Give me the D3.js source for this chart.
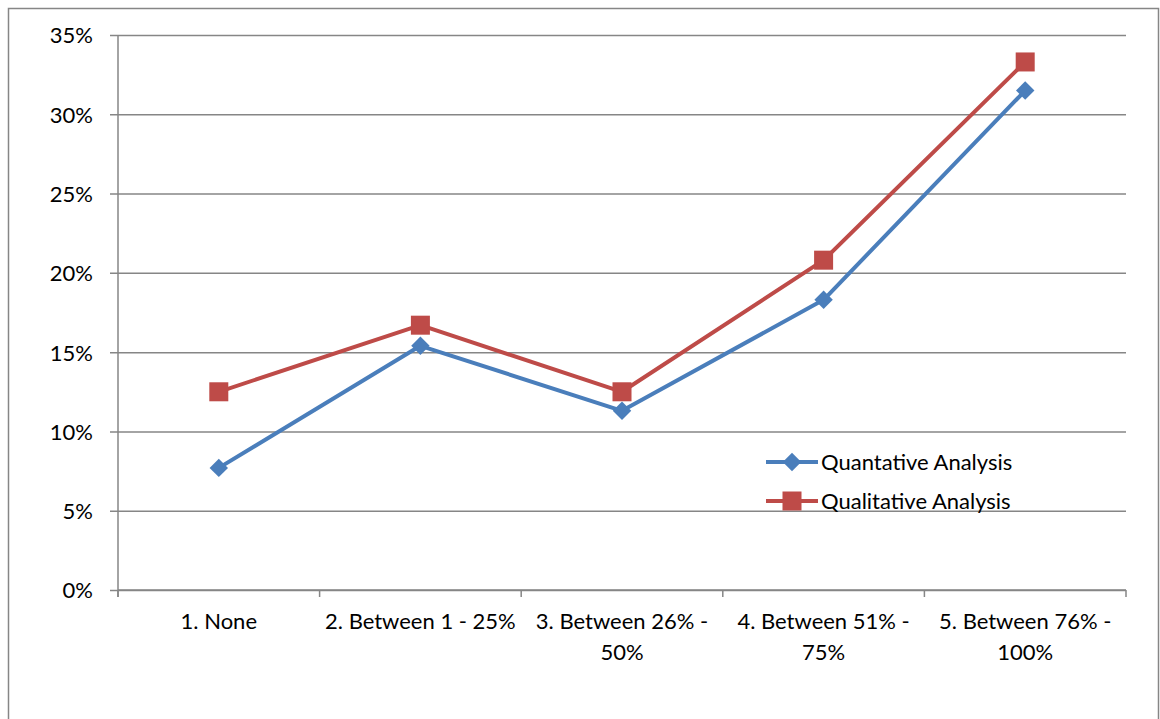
<!DOCTYPE html>
<html>
<head>
<meta charset="utf-8">
<script src="https://cdn.jsdelivr.net/npm/d3@7"></script>
<style>
  body { margin: 0; background: #fff; }
  svg text { font-family: Lato, "Open Sans", sans-serif; fill: #000; }
</style>
</head>
<body>
<svg id="chart" width="1160" height="719"></svg>
<script>
// categories along x
const categories = ["1. None", "2. Between 1 - 25%", "3. Between 26% - 50%", "4. Between 51% - 75%", "5. Between 76% - 100%"]
// series values (fractions)
const quantitative = [0.077, 0.154, 0.113, 0.183, 0.315]
const qualitative = [0.125, 0.167, 0.125, 0.208, 0.333]
const seriesNames = ["Quantative Analysis", "Qualitative Analysis"]
const yTicks = [0, 0.05, 0.10, 0.15, 0.20, 0.25, 0.30, 0.35]

const svg = d3.select("#chart")
const W = 1160, H = 719
const margin = {left: 118, right: 34, top: 35, bottom: 129}
const axisColor = "#868686"
const fontSize = 22

// outer chart border
svg.append("rect")
    .attr("x", 8.5).attr("y", 8.5)
    .attr("width", W - 10).attr("height", H)
    .attr("fill", "none").attr("stroke", axisColor).attr("stroke-width", 1.5)

const x = d3.scaleBand()
    .domain(categories)
    .range([margin.left, W - margin.right])
const y = d3.scaleLinear()
    .domain([0, 0.35])
    .range([H - margin.bottom, margin.top])

// gridlines + y axis
const yAxis = d3.axisLeft(y)
    .tickValues(yTicks)
    .tickFormat(d3.format(".0%"))
    .tickSize(-(W - margin.left - margin.right + 8))
    .tickSizeOuter(0)

const gy = svg.append("g")
    .attr("transform", `translate(${margin.left - 8},0)`)
    .call(yAxis)
gy.select(".domain").remove()
gy.selectAll(".tick line").attr("stroke", axisColor).attr("stroke-width", 1.5)
gy.selectAll(".tick text").attr("font-size", fontSize).attr("x", -17).attr("dy", "0.36em")

// y axis line
svg.append("line")
    .attr("x1", margin.left).attr("x2", margin.left)
    .attr("y1", y(0.35)).attr("y2", y(0) + 7)
    .attr("stroke", axisColor).attr("stroke-width", 1.5)

// x axis
const gx = svg.append("g")
    .attr("transform", `translate(0,${y(0)})`)
svg.append("line")
    .attr("x1", margin.left).attr("x2", W - margin.right)
    .attr("y1", y(0)).attr("y2", y(0))
    .attr("stroke", axisColor).attr("stroke-width", 1.5)

// category boundary ticks
const bounds = categories.map(c => x(c)).concat([x.range()[1]])
gx.selectAll("line.cat-tick")
    .data(bounds)
    .enter().append("line")
    .attr("class", "cat-tick")
    .attr("x1", d => d).attr("x2", d => d)
    .attr("y1", 0).attr("y2", 7)
    .attr("stroke", axisColor).attr("stroke-width", 1.5)

// category labels, wrapped to the band width
const labels = gx.selectAll("text.cat")
    .data(categories)
    .enter().append("text")
    .attr("class", "cat")
    .attr("font-size", fontSize)
    .attr("text-anchor", "middle")
    .attr("x", d => x(d) + x.bandwidth() / 2)
    .attr("y", 39)

labels.each(function(d){
    const t = d3.select(this)
    const words = d.split(" ")
    let line = []
    let tspan = t.append("tspan").attr("x", t.attr("x")).attr("dy", 0)
    for (const w of words) {
        line.push(w)
        tspan.text(line.join(" "))
        if (tspan.node().getComputedTextLength() > x.bandwidth() - 2 && line.length > 1) {
            line.pop()
            tspan.text(line.join(" "))
            line = [w]
            tspan = t.append("tspan").attr("x", t.attr("x")).attr("dy", 31).text(w)
        }
    }
})

const cx = d => x(d) + x.bandwidth() / 2
const colors = ["#4A7EBB", "#BE4B48"]
const allSeries = [quantitative, qualitative]

const line = d3.line()
    .x((d, i) => cx(categories[i]))
    .y(d => y(d))

allSeries.forEach((vals, s) => {
    svg.append("path")
        .datum(vals)
        .attr("fill", "none")
        .attr("stroke", colors[s])
        .attr("stroke-width", 4)
        .attr("stroke-linejoin", "round")
        .attr("d", line)
})

function marker(g, s, px, py){
    if (s === 0) {
        g.append("path")
            .attr("d", d3.symbol(d3.symbolSquare, 170)())
            .attr("transform", `translate(${px},${py}) rotate(45)`)
            .attr("fill", colors[s])
    } else {
        g.append("rect")
            .attr("x", px - 9.5).attr("y", py - 9.5)
            .attr("width", 19).attr("height", 19)
            .attr("fill", colors[s])
    }
}

allSeries.forEach((vals, s) => {
    const g = svg.append("g")
    vals.forEach((v, i) => marker(g, s, cx(categories[i]), y(v)))
})

// legend
const legend = svg.append("g")
seriesNames.forEach((name, s) => {
    const ly = 462 + s * 39
    legend.append("line")
        .attr("x1", 766).attr("x2", 818)
        .attr("y1", ly).attr("y2", ly)
        .attr("stroke", colors[s]).attr("stroke-width", 4)
    marker(legend, s, 792, ly)
    legend.append("text")
        .attr("x", 821).attr("y", ly)
        .attr("dy", "0.36em")
        .attr("font-size", fontSize)
        .text(name)
})
</script>
</body>
</html>
